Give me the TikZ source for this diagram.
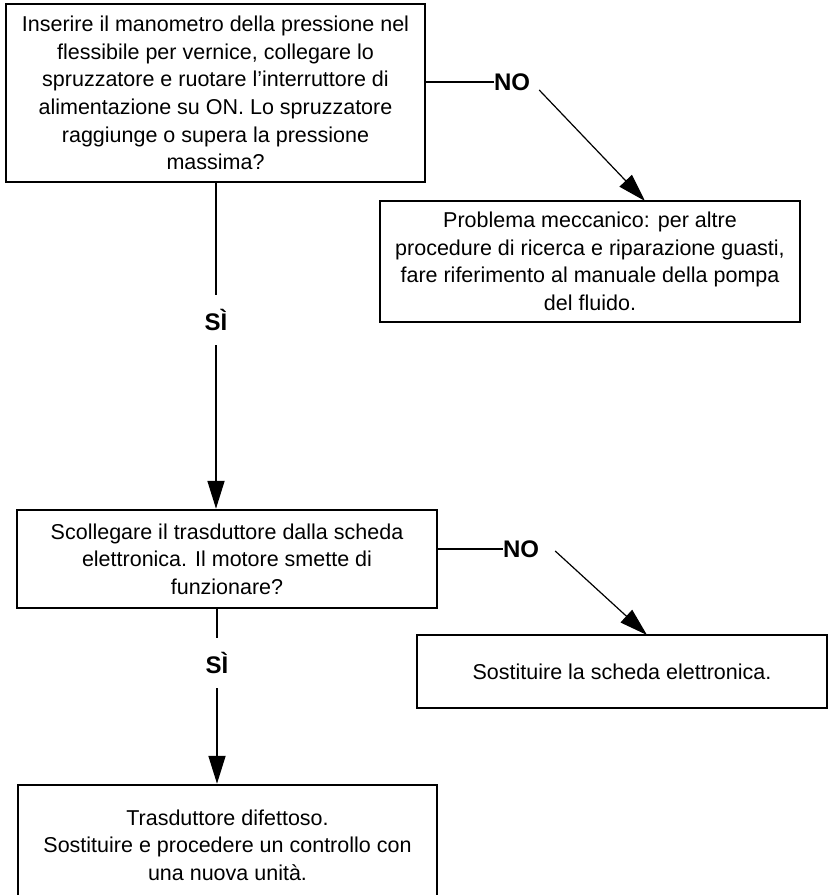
\documentclass[tikz,border=0pt]{standalone}
\usepackage{fontspec}
\setmainfont{Liberation Sans}
\usetikzlibrary{arrows.meta}

\begin{document}
\begin{tikzpicture}[x=1pt,y=-1pt,
    box/.style={draw,line width=2.5pt,inner sep=0pt,align=center,
        font=\fontsize{21.5pt}{27.6pt}\selectfont},
    answer/.style={inner sep=0pt,font=\fontsize{24pt}{24pt}\selectfont\bfseries},
    link/.style={line width=1.8pt},
    jump/.style={line width=1.2pt,-{Triangle[length=28pt,width=17pt]}},
    down/.style={line width=1.8pt,-{Triangle[length=28pt,width=17pt]}}]
    \useasboundingbox (0,0) rectangle (829,895);
    \clip (0,0) rectangle (829,895);
    \node[box,minimum width=419pt,minimum height=178pt] (q1) at (215.5,93)
        {Inserire il manometro della pressione nel\\ flessibile per vernice, collegare lo\\
         spruzzatore e ruotare l’interruttore di\\ alimentazione su ON. Lo spruzzatore\\
         raggiunge o supera la pressione\\ massima?};
    \node[box,minimum width=420pt,minimum height=121pt] (r1) at (590,261.5)
        {Problema meccanico: per altre\\ procedure di ricerca e riparazione guasti,\\
         fare riferimento al manuale della pompa\\ del fluido.};
    \node[box,minimum width=420pt,minimum height=98pt] (q2) at (227,559)
        {Scollegare il trasduttore dalla scheda\\ elettronica. Il motore smette di\\ funzionare?};
    \node[box,minimum width=410pt,minimum height=73pt] (r2) at (622,671.5)
        {Sostituire la scheda elettronica.};
    \node[box,minimum width=419pt,minimum height=120pt] (r3) at (227.5,845)
        {Trasduttore difettoso.\\ Sostituire e procedere un controllo con\\ una nuova unità.};
    \node[answer] (no1) at (512,82) {NO};
    \node[answer] (no2) at (521,549) {NO};
    \node[answer,minimum height=50pt] (si1) at (216,320) {SÌ};
    \node[answer,minimum height=50pt] (si2) at (217,663) {SÌ};
    \coordinate (t1) at (645,201);
    \coordinate (t2) at (647,635);
    \draw[link] (q1.east |- no1) -- (no1.west);
    \draw[jump] ([shift={(9pt,-8pt)}]no1.east) -- (t1);
    \draw[link] (q1.south -| si1) -- (si1.north);
    \draw[down] (si1.south) -- (q2.north -| si1);
    \draw[link] (q2.east |- no2) -- (no2.west);
    \draw[jump] ([shift={(16pt,-2pt)}]no2.east) -- (t2);
    \draw[link] (q2.south -| si2) -- (si2.north);
    \draw[down] (si2.south) -- (r3.north -| si2);
\end{tikzpicture}
\end{document}
